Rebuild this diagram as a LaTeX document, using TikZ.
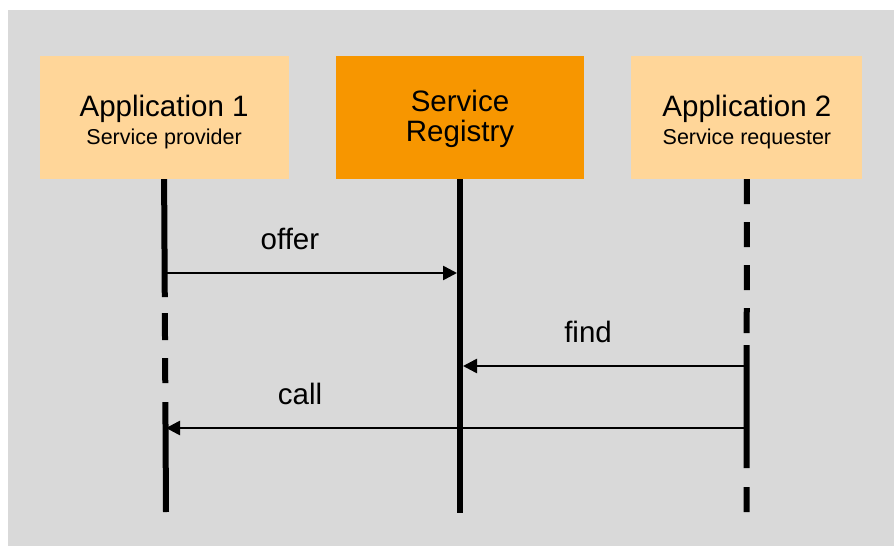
\documentclass[tikz,border=0pt]{standalone}
\usepackage{fontspec}
\setmainfont{Liberation Sans}
\usetikzlibrary{arrows.meta,positioning}
\definecolor{bggray}{HTML}{D9D9D9}
\definecolor{applight}{HTML}{FFD699}
\definecolor{regorange}{HTML}{F79600}
\tikzset{
    %Define standard arrow tip
    >={Triangle[length=14pt,width=14pt]},
    %Define style for boxes
    appbox/.style={
           rectangle,
           fill=applight,
           minimum width=249pt,
           minimum height=123pt,
           inner sep=0pt,
           align=center,
           text height=57pt,
           text depth=4pt,
           font=\fontsize{29.5}{28}\selectfont},
    regbox/.style={
           appbox,
           fill=regorange,
           minimum width=248pt,
           text height=53pt,
           text depth=6pt,
           font=\fontsize{29.5}{30}\selectfont},
    % Define lifeline style
    lifeline/.style={
           line width=6pt},
    % Define arrow style
    pil/.style={
           ->,
           line width=2.6pt},
    % Define style for arrow labels
    msglabel/.style={
           anchor=base,
           yshift=23.5pt,
           font=\fontsize{29.5}{30}\selectfont}
}

\begin{document}
\begin{tikzpicture}[x=1pt, y=-1pt, node distance=47pt]
  \useasboundingbox (0,0) rectangle (894,546);
  \fill[bggray] (8,10) rectangle (894,546);
  \node[regbox] (reg) at (460,117.5) {Service\\Registry};
  \node[appbox,left=of reg] (app1) {Application 1\\{\fontsize{21.5}{28}\selectfont Service provider}};
  \node[appbox,minimum width=231pt,right=of reg] (app2) {Application 2\\{\fontsize{21.5}{28}\selectfont Service requester}};
  % lifelines
  \coordinate (app1end) at (166,512);
  \coordinate (regend) at (460,513);
  \coordinate (app2end) at (746.5,512);
  \draw[lifeline,dash pattern=on 118pt off 16pt on 27pt off 18pt on 25pt off 19pt on 200pt] (app1.south) -- (app1end);
  \draw[lifeline] (reg.south) -- (regend);
  \draw[lifeline,dash pattern=on 25pt off 18pt on 25pt off 18pt on 25pt off 18pt on 25pt off 12pt on 123pt off 19pt on 25pt off 50pt] (app2.south) -- (app2end);
  % messages
  \coordinate (offerfrom) at (166,273);
  \coordinate (offerto) at (457,273);
  \coordinate (findfrom) at (744,366);
  \coordinate (findto) at (463,366);
  \coordinate (callfrom) at (744,428);
  \coordinate (callto) at (166,428);
  \draw[pil] (offerfrom) -- node[msglabel,pos=0.426] {offer} (offerto);
  \draw[pil] (findfrom) -- node[msglabel,pos=0.555] {find} (findto);
  \draw[pil] (callfrom) -- node[msglabel,pos=0.768] {call} (callto);
\end{tikzpicture}
\end{document}
